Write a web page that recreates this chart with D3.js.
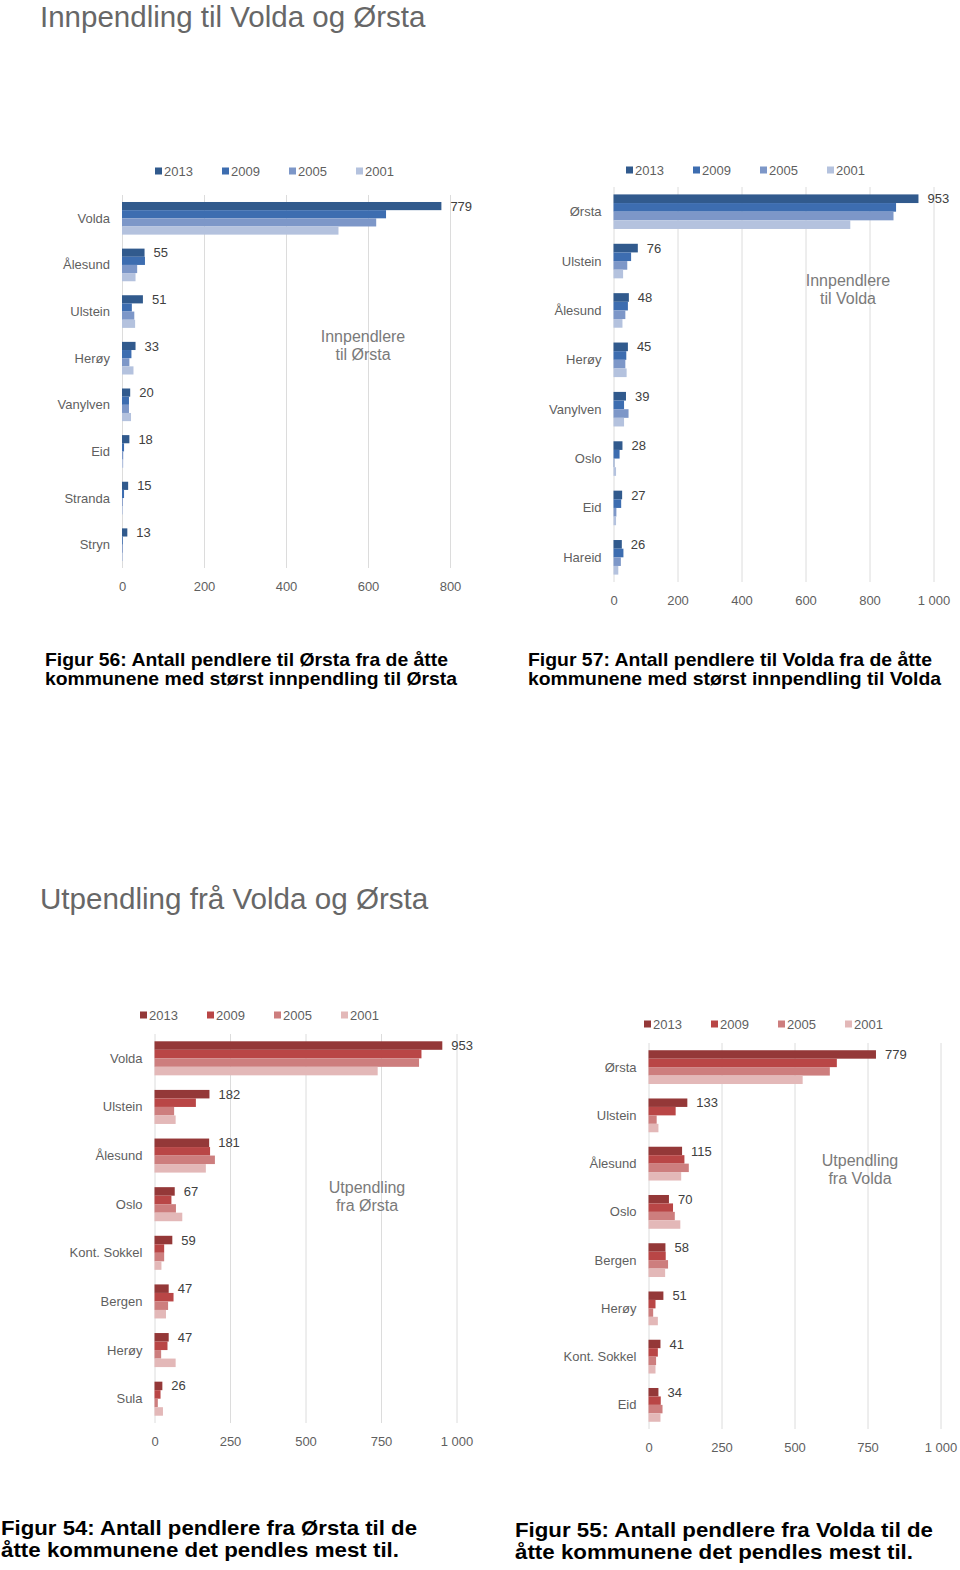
<!DOCTYPE html>
<html>
<head>
<meta charset="utf-8">
<script src="https://cdn.jsdelivr.net/npm/d3@7"></script>
<style>
  html, body { margin: 0; padding: 0; background: #fff; }
  svg { display: block; font-family: "Liberation Sans", Arial, sans-serif; }
</style>
</head>
<body>
<svg id="chart" width="960" height="1570"></svg>
<script>
// ---------- DATA ----------
const years = ["2013", "2009", "2005", "2001"];

const innOrstaCats = ["Volda", "Ålesund", "Ulstein", "Herøy", "Vanylven", "Eid", "Stranda", "Stryn"];
const innOrsta2013 = [779, 55, 51, 33, 20, 18, 15, 13];
const innOrsta2009 = [644, 56, 24, 23, 17, 5, 5, 2];
const innOrsta2005 = [620, 37, 30, 18, 17, 3, 2, 1];
const innOrsta2001 = [528, 33, 32, 28, 22, 3, 2, 1];

const innVoldaCats = ["Ørsta", "Ulstein", "Ålesund", "Herøy", "Vanylven", "Oslo", "Eid", "Hareid"];
const innVolda2013 = [953, 76, 48, 45, 39, 28, 27, 26];
const innVolda2009 = [883, 55, 45, 40, 33, 19, 24, 31];
const innVolda2005 = [875, 43, 37, 37, 47, 3, 9, 23];
const innVolda2001 = [740, 30, 28, 41, 33, 8, 8, 15];

const utOrstaCats = ["Volda", "Ulstein", "Ålesund", "Oslo", "Kont. Sokkel", "Bergen", "Herøy", "Sula"];
const utOrsta2013 = [953, 182, 181, 67, 59, 47, 47, 26];
const utOrsta2009 = [884, 137, 184, 56, 32, 63, 43, 20];
const utOrsta2005 = [876, 65, 200, 71, 32, 45, 22, 11];
const utOrsta2001 = [739, 70, 170, 92, 23, 38, 70, 28];

const utVoldaCats = ["Ørsta", "Ulstein", "Ålesund", "Oslo", "Bergen", "Herøy", "Kont. Sokkel", "Eid"];
const utVolda2013 = [779, 133, 115, 70, 58, 51, 41, 34];
const utVolda2009 = [645, 93, 123, 84, 59, 24, 32, 42];
const utVolda2005 = [621, 28, 138, 90, 67, 16, 26, 48];
const utVolda2001 = [528, 34, 112, 109, 57, 32, 24, 41];

const ticks800 = [0, 200, 400, 600, 800];
const ticks1000a = [0, 200, 400, 600, 800, 1000];
const ticks1000b = [0, 250, 500, 750, 1000];

const titleTop = "Innpendling til Volda og Ørsta";
const titleBottom = "Utpendling frå Volda og Ørsta";
const annInOrsta = ["Innpendlere", "til Ørsta"];
const annInVolda = ["Innpendlere", "til Volda"];
const annUtOrsta = ["Utpendling", "fra Ørsta"];
const annUtVolda = ["Utpendling", "fra Volda"];
const cap56 = ["Figur 56: Antall pendlere til Ørsta fra de åtte", "kommunene med størst innpendling til Ørsta"];
const cap57 = ["Figur 57: Antall pendlere til Volda fra de åtte", "kommunene med størst innpendling til Volda"];
const cap54 = ["Figur 54: Antall pendlere fra Ørsta til de", "åtte kommunene det pendles mest til."];
const cap55 = ["Figur 55: Antall pendlere fra Volda til de", "åtte kommunene det pendles mest til."];

// ---------- STYLES ----------
const blues = ["#315a8d", "#3d6db0", "#7d97c8", "#b4c2de"];
const reds = ["#943838", "#b94646", "#cd7e7e", "#e3b8b8"];
const gridColor = "#dcdcdc";
const labelColor = "#5f5f5f";
const valueColor = "#404040";

const svg = d3.select("#chart");
svg.append("rect").attr("width", 960).attr("height", 1570).attr("fill", "#fff");

const fmt = v => v >= 1000 ? d3.format(",")(v).replace(",", "\u00a0") : String(v);

function drawChart(cfg) {
  const series = [cfg.s2013, cfg.s2009, cfg.s2005, cfg.s2001];
  const rows = cfg.cats.map((c, i) => ({ cat: c, vals: years.map((y, k) => ({ year: y, k, v: series[k][i] })) }));

  const x = d3.scaleLinear().domain([0, cfg.max]).range([cfg.x0, cfg.x1]);
  const y = d3.scaleBand().domain(cfg.cats).range([cfg.yTop, cfg.yBot]).paddingInner(0.3).paddingOuter(0.15);
  const ySub = d3.scaleBand().domain(years).range([0, y.bandwidth()]);

  const g = svg.append("g");

  // axis with gridlines
  const axis = d3.axisBottom(x).tickValues(cfg.ticks).tickFormat(fmt)
    .tickSize(-(cfg.yBot - cfg.yTop)).tickPadding(14);
  const ax = g.append("g").attr("transform", `translate(0,${cfg.yBot})`).call(axis);
  ax.select(".domain").remove();
  ax.selectAll(".tick line").attr("stroke", gridColor).attr("stroke-width", 1);
  ax.selectAll(".tick text").attr("fill", labelColor).attr("font-size", 13)
    .attr("font-family", "Liberation Sans, Arial, sans-serif");

  // bars
  const grp = g.selectAll(".grp").data(rows).join("g")
    .attr("transform", d => `translate(0,${y(d.cat)})`);
  grp.selectAll("rect").data(d => d.vals).join("rect")
    .attr("x", x(0))
    .attr("y", d => ySub(d.year))
    .attr("width", d => Math.max(0.8, x(d.v) - x(0)))
    .attr("height", ySub.bandwidth())
    .attr("fill", d => cfg.colors[d.k]);

  // value labels (2013)
  grp.append("text")
    .attr("x", d => x(d.vals[0].v) + 9)
    .attr("y", ySub("2013") + ySub.bandwidth() / 2)
    .attr("dy", "0.35em")
    .attr("font-size", 13).attr("fill", valueColor)
    .text(d => fmt(d.vals[0].v));

  // category labels
  g.selectAll(".cat").data(cfg.cats).join("text")
    .attr("x", cfg.x0 - 12)
    .attr("y", d => y(d) + y.bandwidth() / 2)
    .attr("dy", "0.35em")
    .attr("text-anchor", "end")
    .attr("font-size", 13).attr("fill", labelColor)
    .text(d => d);

  // legend
  const lg = g.selectAll(".lg").data(years).join("g")
    .attr("transform", (d, i) => `translate(${cfg.legendX + i * 67},${cfg.legendY})`);
  lg.append("rect").attr("x", 0).attr("y", -3.5).attr("width", 7).attr("height", 7)
    .attr("fill", (d, i) => cfg.colors[i]);
  lg.append("text").attr("x", 9).attr("y", 0).attr("dy", "0.35em")
    .attr("font-size", 13).attr("fill", labelColor).text(d => d);

  // annotation
  g.append("text").attr("text-anchor", "middle").attr("font-size", 16).attr("fill", "#7a7a7a")
    .selectAll("tspan").data(cfg.ann).join("tspan")
    .attr("x", cfg.annX).attr("y", (d, i) => cfg.annY + i * 18).attr("dy", "0.35em")
    .text(d => d);
}

drawChart({ cats: innOrstaCats, s2013: innOrsta2013, s2009: innOrsta2009, s2005: innOrsta2005, s2001: innOrsta2001,
  max: 800, ticks: ticks800, x0: 122, x1: 450, yTop: 195, yBot: 568, colors: blues,
  legendX: 155, legendY: 171, ann: annInOrsta, annX: 363, annY: 336 });

drawChart({ cats: innVoldaCats, s2013: innVolda2013, s2009: innVolda2009, s2005: innVolda2005, s2001: innVolda2001,
  max: 1000, ticks: ticks1000a, x0: 613.5, x1: 933.5, yTop: 187, yBot: 582, colors: blues,
  legendX: 626, legendY: 170, ann: annInVolda, annX: 848, annY: 280 });

drawChart({ cats: utOrstaCats, s2013: utOrsta2013, s2009: utOrsta2009, s2005: utOrsta2005, s2001: utOrsta2001,
  max: 1000, ticks: ticks1000b, x0: 154.5, x1: 456.5, yTop: 1034, yBot: 1423, colors: reds,
  legendX: 140, legendY: 1015, ann: annUtOrsta, annX: 367, annY: 1187 });

drawChart({ cats: utVoldaCats, s2013: utVolda2013, s2009: utVolda2009, s2005: utVolda2005, s2001: utVolda2001,
  max: 1000, ticks: ticks1000b, x0: 648.5, x1: 940.5, yTop: 1043, yBot: 1429, colors: reds,
  legendX: 644, legendY: 1024, ann: annUtVolda, annX: 860, annY: 1160 });

// ---------- TITLES ----------
svg.append("text").attr("x", 40).attr("y", 27).attr("font-size", 29.5).attr("fill", "#676767").text(titleTop);
svg.append("text").attr("x", 40).attr("y", 909).attr("font-size", 29.6).attr("fill", "#676767").text(titleBottom);

// ---------- CAPTIONS ----------
function caption(lines, x, ys, widths, size) {
  lines.forEach((t, i) => {
    svg.append("text").attr("x", x).attr("y", ys[i])
      .attr("font-size", size).attr("font-weight", "bold").attr("fill", "#000")
      .attr("textLength", widths[i]).attr("lengthAdjust", "spacingAndGlyphs")
      .text(t);
  });
}
caption(cap56, 45, [666, 685], [403, 412], 19);
caption(cap57, 528, [666, 685], [404, 413], 19);
caption(cap54, 1, [1535, 1557], [416, 398], 21);
caption(cap55, 515, [1537, 1559], [418, 398], 21);
</script>
</body>
</html>
